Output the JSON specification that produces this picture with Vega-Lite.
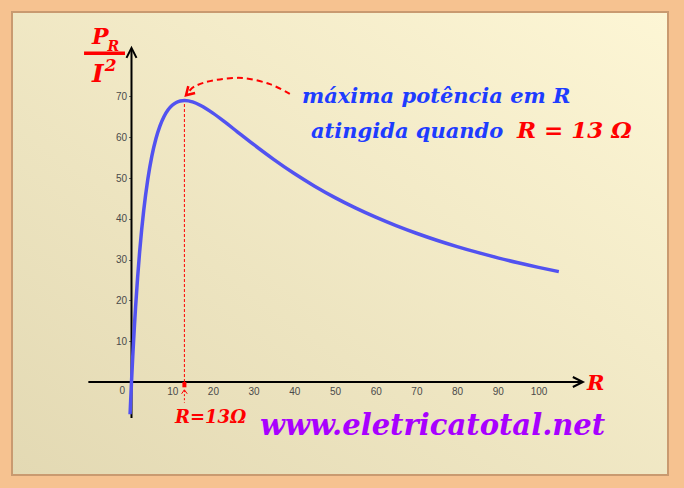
{
  "$schema": "https://vega.github.io/schema/vega-lite/v6.json",
  "autosize": {"type": "none"},
  "padding": {"left": 12, "right": 16, "top": 12, "bottom": 13},
  "width": 656,
  "height": 463,
  "background": "#f6c290",
  "view": {
    "fill": {"gradient": "linear", "x1": 0, "y1": 1, "x2": 1, "y2": 0,
      "stops": [{"offset": 0, "color": "#e3d9b3"}, {"offset": 1, "color": "#fdf6d5"}]},
    "stroke": "#c99a70",
    "strokeWidth": 2
  },
  "datasets": {
    "curve": [
      {"R": -0.35, "P": -7.9}, {"R": 0, "P": 0}, {"R": 0.25, "P": 5.11}, {"R": 0.5, "P": 9.84},
      {"R": 0.75, "P": 14.23}, {"R": 1, "P": 18.31}, {"R": 1.5, "P": 25.6}, {"R": 2, "P": 31.89},
      {"R": 2.5, "P": 37.34}, {"R": 3, "P": 42.05}, {"R": 4, "P": 49.66}, {"R": 5, "P": 55.37},
      {"R": 6, "P": 59.63}, {"R": 7, "P": 62.79}, {"R": 8, "P": 65.09}, {"R": 9, "P": 66.72},
      {"R": 10, "P": 67.83}, {"R": 11, "P": 68.52}, {"R": 12, "P": 68.89}, {"R": 13, "P": 69.0},
      {"R": 14, "P": 68.91}, {"R": 15, "P": 68.65}, {"R": 17, "P": 67.77}, {"R": 20, "P": 65.9},
      {"R": 23, "P": 63.68}, {"R": 26, "P": 61.33}, {"R": 30, "P": 58.22}, {"R": 35, "P": 54.51},
      {"R": 40, "P": 51.09}, {"R": 45, "P": 48.0}, {"R": 50, "P": 45.2}, {"R": 55, "P": 42.68},
      {"R": 60, "P": 40.4}, {"R": 65, "P": 38.33}, {"R": 70, "P": 36.46}, {"R": 75, "P": 34.75},
      {"R": 80, "P": 33.19}, {"R": 85, "P": 31.76}, {"R": 90, "P": 30.44}, {"R": 95, "P": 29.22},
      {"R": 100, "P": 28.1}, {"R": 105, "P": 27.06}
    ],
    "axes": [
      {"R": -10.6, "P": 0, "R2": 110.6, "P2": 0},
      {"R": 0, "P": -8.8, "R2": 0, "P2": 81.6}
    ],
    "xarrow": [{"R": 110.9, "P": 0}],
    "yarrow": [{"R": 0, "P": 81.9}],
    "peakline": [{"R": 13, "P": 0, "P2": 69}],
    "redtick": [{"R": 13, "P": 0, "P2": -1.3}],
    "smallstem": [{"R": 13, "P": -2.0, "P2": -5.1}],
    "smallhead": [{"R": 13, "P": -1.9}],
    "callout": [
      {"i": 1, "R": 38.9, "P": 70.6}, {"i": 2, "R": 34.0, "P": 73.0}, {"i": 3, "R": 27.4, "P": 74.5},
      {"i": 4, "R": 20.5, "P": 74.0}, {"i": 5, "R": 15.6, "P": 72.5}, {"i": 6, "R": 13.4, "P": 70.3}
    ],
    "callouthead": [{"R": 13.4, "P": 70.3}],
    "bluetext": [
      {"R": 41.9, "P": 68.4, "t": "máxima potência em R"},
      {"R": 44.1, "P": 59.8, "t": "atingida quando"}
    ],
    "redbig": [{"R": 94.7, "P": 59.8, "t": "R = 13 Ω"}],
    "redsmall": [{"R": 10.7, "P": -10.05, "t": "R=13Ω"}],
    "url": [{"R": 31.6, "P": -13.0, "t": "www.eletricatotal.net"}],
    "raxis": [{"R": 111.9, "P": -1.96, "t": "R"}],
    "fracbar": [{"R": -11.66, "P": 80.6, "R2": -1.6}],
    "fracP": [{"R": -9.7, "P": 82.8, "t": "P"}],
    "fracR": [{"R": -5.9, "P": 81.2, "t": "R"}],
    "fracI": [{"R": -9.7, "P": 73.5, "t": "I"}],
    "frac2": [{"R": -6.6, "P": 76.2, "t": "2"}]
  },
  "encoding": {
    "x": {
      "field": "R", "type": "quantitative",
      "scale": {"domain": [-29.36, 131.82], "nice": false, "zero": false},
      "axis": {
        "values": [10, 20, 30, 40, 50, 60, 70, 80, 90, 100],
        "domain": false, "grid": false, "ticks": false, "tickSize": 0,
        "offset": -93, "labelPadding": 4,
        "labelFont": "Liberation Sans", "labelFontSize": 10, "labelColor": "#4a4a4a",
        "title": null
      }
    },
    "y": {
      "field": "P", "type": "quantitative",
      "scale": {"domain": [-22.79, 90.69], "nice": false, "zero": false},
      "axis": {
        "values": [0, 10, 20, 30, 40, 50, 60, 70],
        "domain": false, "grid": false,
        "tickSize": {"condition": {"test": "datum.value == 0", "value": 0}, "value": 3},
        "tickColor": "#666666",
        "offset": -119.5,
        "labelPadding": {"condition": {"test": "datum.value == 0", "value": 7}, "value": 2},
        "labelOffset": {"condition": {"test": "datum.value == 0", "value": 8}, "value": 0},
        "labelFont": "Liberation Sans", "labelFontSize": 10, "labelColor": "#4a4a4a",
        "title": null
      }
    }
  },
  "layer": [
    {
      "data": {"name": "axes"},
      "mark": {"type": "rule", "color": "#000000", "strokeWidth": 2},
      "encoding": {"x2": {"field": "R2"}, "y2": {"field": "P2"}}
    },
    {
      "data": {"name": "xarrow"},
      "mark": {"type": "point", "shape": "M-1,-0.5L0,0L-1,0.5", "filled": false, "stroke": "#000000", "strokeWidth": 2, "size": 400, "opacity": 1}
    },
    {
      "data": {"name": "yarrow"},
      "mark": {"type": "point", "shape": "M-1,-0.5L0,0L-1,0.5", "filled": false, "stroke": "#000000", "strokeWidth": 2, "size": 400, "angle": -90, "opacity": 1}
    },
    {
      "data": {"name": "peakline"},
      "mark": {"type": "rule", "color": "#ff0000", "strokeWidth": 1, "strokeDash": [3, 2]},
      "encoding": {"y2": {"field": "P2"}}
    },
    {
      "data": {"name": "redtick"},
      "mark": {"type": "rule", "color": "#ff0000", "strokeWidth": 4},
      "encoding": {"y2": {"field": "P2"}}
    },
    {
      "data": {"name": "smallstem"},
      "mark": {"type": "rule", "color": "#ff0000", "strokeWidth": 1, "strokeDash": [2, 2]},
      "encoding": {"y2": {"field": "P2"}}
    },
    {
      "data": {"name": "smallhead"},
      "mark": {"type": "point", "shape": "M-1,-0.7L0,0L-1,0.7", "filled": false, "stroke": "#ff0000", "strokeWidth": 1, "size": 64, "angle": -90, "opacity": 1}
    },
    {
      "data": {"name": "curve"},
      "mark": {"type": "line", "color": "#5252f0", "strokeWidth": 3.5, "interpolate": "monotone"}
    },
    {
      "data": {"name": "callout"},
      "mark": {"type": "line", "color": "#ff0000", "strokeWidth": 2, "strokeDash": [6, 4], "interpolate": "cardinal"},
      "encoding": {"order": {"field": "i", "type": "quantitative"}}
    },
    {
      "data": {"name": "callouthead"},
      "mark": {"type": "point", "shape": "M-1,-0.6L0,0L-1,0.6", "filled": false, "stroke": "#ff0000", "strokeWidth": 2.5, "size": 256, "angle": 135, "opacity": 1}
    },
    {
      "data": {"name": "bluetext"},
      "mark": {"type": "text", "align": "left", "baseline": "alphabetic", "font": "DejaVu Serif", "fontWeight": "bold", "fontStyle": "italic", "fontSize": 21, "color": "#1e3cff"},
      "encoding": {"text": {"field": "t"}}
    },
    {
      "data": {"name": "redbig"},
      "mark": {"type": "text", "align": "left", "baseline": "alphabetic", "font": "DejaVu Serif", "fontWeight": "bold", "fontStyle": "italic", "fontSize": 23, "color": "#ff0000"},
      "encoding": {"text": {"field": "t"}}
    },
    {
      "data": {"name": "redsmall"},
      "mark": {"type": "text", "align": "left", "baseline": "alphabetic", "font": "DejaVu Serif", "fontWeight": "bold", "fontStyle": "italic", "fontSize": 18, "color": "#ff0000"},
      "encoding": {"text": {"field": "t"}}
    },
    {
      "data": {"name": "url"},
      "mark": {"type": "text", "align": "left", "baseline": "alphabetic", "font": "DejaVu Serif", "fontWeight": "bold", "fontStyle": "italic", "fontSize": 29, "color": "#a800ff"},
      "encoding": {"text": {"field": "t"}}
    },
    {
      "data": {"name": "raxis"},
      "mark": {"type": "text", "align": "left", "baseline": "alphabetic", "font": "DejaVu Serif", "fontWeight": "bold", "fontStyle": "italic", "fontSize": 21, "color": "#ff0000"},
      "encoding": {"text": {"field": "t"}}
    },
    {
      "data": {"name": "fracbar"},
      "mark": {"type": "rule", "color": "#ff0000", "strokeWidth": 3.5},
      "encoding": {"x2": {"field": "R2"}}
    },
    {
      "data": {"name": "fracP"},
      "mark": {"type": "text", "align": "left", "baseline": "alphabetic", "font": "DejaVu Serif", "fontWeight": "bold", "fontStyle": "italic", "fontSize": 22, "color": "#ff0000"},
      "encoding": {"text": {"field": "t"}}
    },
    {
      "data": {"name": "fracR"},
      "mark": {"type": "text", "align": "left", "baseline": "alphabetic", "font": "DejaVu Serif", "fontWeight": "bold", "fontStyle": "italic", "fontSize": 14, "color": "#ff0000"},
      "encoding": {"text": {"field": "t"}}
    },
    {
      "data": {"name": "fracI"},
      "mark": {"type": "text", "align": "left", "baseline": "alphabetic", "font": "DejaVu Serif", "fontWeight": "bold", "fontStyle": "italic", "fontSize": 25, "color": "#ff0000"},
      "encoding": {"text": {"field": "t"}}
    },
    {
      "data": {"name": "frac2"},
      "mark": {"type": "text", "align": "left", "baseline": "alphabetic", "font": "DejaVu Serif", "fontWeight": "bold", "fontStyle": "italic", "fontSize": 17, "color": "#ff0000"},
      "encoding": {"text": {"field": "t"}}
    }
  ]
}
